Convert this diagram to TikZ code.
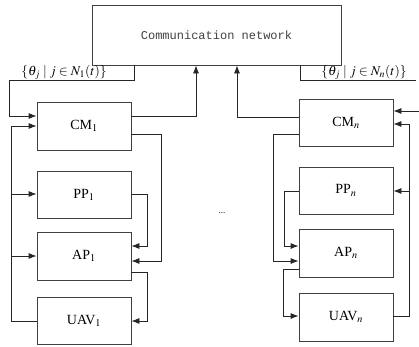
\documentclass[tikz,border=0pt]{standalone}
\usepackage{mathptmx}
\usepackage[no-math]{fontspec}
\setmainfont{Liberation Serif}
\newfontfamily\monofont{Liberation Mono}
\usetikzlibrary{arrows.meta}
\begin{document}
\begin{tikzpicture}[x=1pt,y=-1pt,
  box/.style={draw=black!75,line width=0.8pt,minimum width=94pt,minimum height=48pt,inner sep=0pt,font=\fontsize{14}{16}\selectfont},
  conn/.style={draw=black!85,line width=0.8pt},
  arr/.style={conn,-{Latex[length=8pt,width=6pt]}},
  lab/.style={font=\fontsize{13.5}{15}\selectfont,inner sep=0pt,anchor=base}]
\useasboundingbox (0,0) rectangle (419,346);
% boxes
\node[box,minimum width=249pt,minimum height=60pt,font=\monofont\fontsize{12}{14}\selectfont,text=black!75] (net) at (216.5,35) {Communication network};
\node[box] (CM1) at (84,126) {CM$_1$};
\node[box,minimum height=47pt] (PP1) at (84,194.5) {PP$_1$};
\node[box] (AP1) at (84,256) {AP$_1$};
\node[box,minimum height=47pt] (UAV1) at (84,320.5) {UAV$_1$};
\node[box,minimum height=47pt] (CMn) at (346,122.5) {CM$_n$};
\node[box,minimum height=47pt] (PPn) at (346,190.5) {PP$_n$};
\node[box] (APn) at (346,253) {AP$_n$};
\node[box] (UAVn) at (346,317) {UAV$_n$};
\node[inner sep=0pt,font=\fontsize{9}{10}\selectfont] (dots) at (222,213) {...};
% labels
\node[lab] (lab1) at (64,75) {$\{\theta_j \mid j\in N_1(t)\}$};
\node[lab] (labn) at (364,75) {$\{\theta_j \mid j\in N_n(t)\}$};
\coordinate (rin) at (419,111);
% left side
\draw[arr] (net.south -| 134,0) -- (134,80) -- (9,80) -- (9,116) -- (CM1.west |- 0,116);
\draw[arr] (CM1.east |- 0,116) -- (196,116) -- (net.south -| 196,0);
\draw[arr] (CM1.east |- 0,134) -- (161,134) -- (161,261) -- (AP1.east |- 0,261);
\draw[arr] (PP1.east |- 0,194) -- (147,194) -- (147,246) -- (AP1.east |- 0,246);
\draw[arr] (AP1.east |- 0,272) -- (147,272) -- (147,321) -- (UAV1.east |- 0,321);
\draw[arr] (UAV1.west |- 0,321) -- (11,321) -- (11,126) -- (CM1.west |- 0,126);
\draw[arr] (11,194) -- (PP1.west |- 0,194);
\draw[arr] (11,256) -- (AP1.west |- 0,256);
% right side
\draw[conn] (net.south -| 300,0) -- (300,80) -- (416,80);
\draw[arr] (rin) -- (CMn.east |- rin);
\draw[arr] (CMn.west |- 0,117) -- (237,117) -- (net.south -| 237,0);
\draw[arr] (CMn.west |- 0,134) -- (273,134) -- (273,261) -- (APn.west |- 0,261);
\draw[arr] (PPn.west |- 0,191) -- (284,191) -- (284,246) -- (APn.west |- 0,246);
\draw[arr] (APn.west |- 0,269) -- (283,269) -- (283,316) -- (UAVn.west |- 0,316);
\draw[arr] (UAVn.east |- 0,316) -- (409,316) -- (409,124) -- (CMn.east |- 0,124);
\draw[arr] (409,191) -- (PPn.east |- 0,191);
\end{tikzpicture}
\end{document}
